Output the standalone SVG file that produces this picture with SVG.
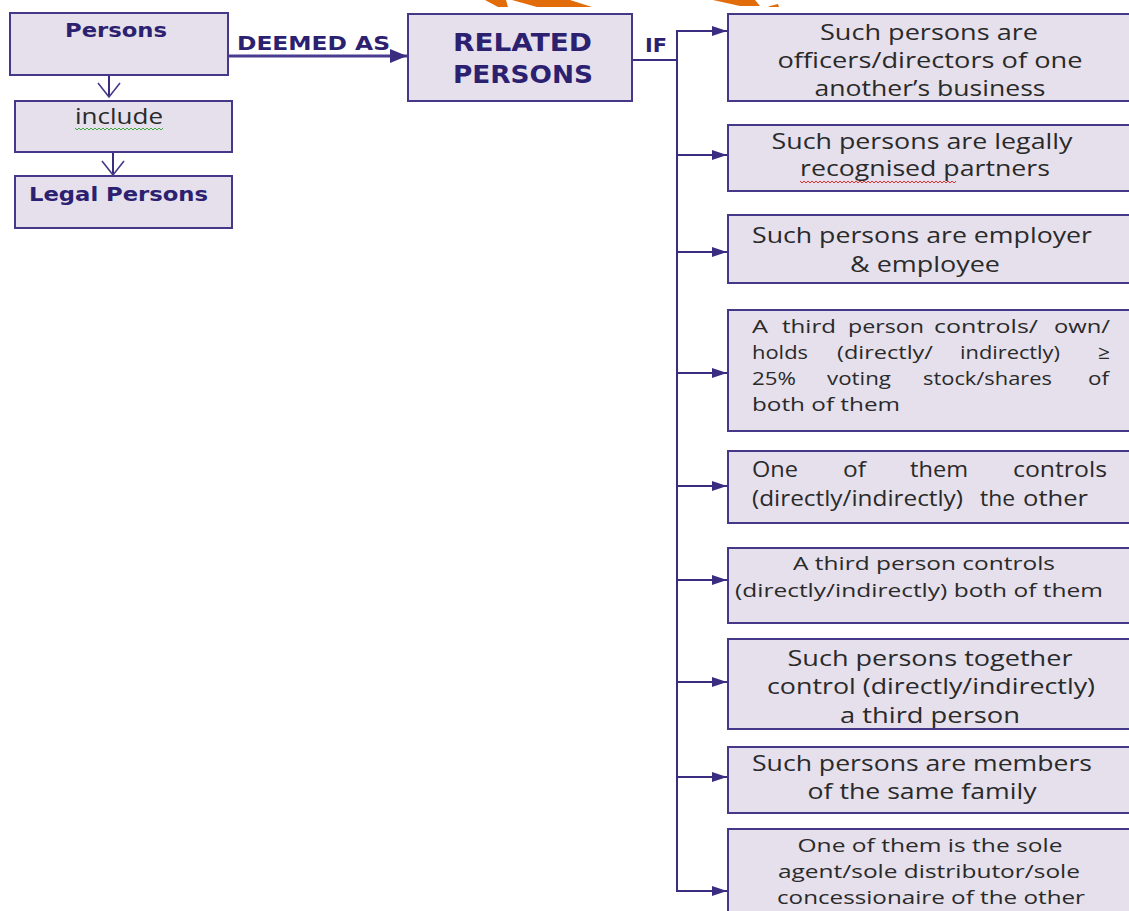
<svg xmlns="http://www.w3.org/2000/svg" width="1129" height="911" viewBox="0 0 1129 911">
  <style>
    .box { fill: #E5E0EC; stroke: #463889; stroke-width: 2; }
    .hdr { font-family: "DejaVu Sans", Verdana, sans-serif; font-weight: bold; fill: #2C2170; }
    .txt { font-family: "Open Sans", "Segoe UI", sans-serif; font-size: 21px; fill: #2A2A2A; }
    .sm { font-size: 19px; }
    .c { text-anchor: middle; }
    .wire { fill: none; stroke: #3A2C80; stroke-width: 2; }
    .wire-thick { fill: none; stroke: #4A3C91; stroke-width: 3; }
    .wave-g { fill: none; stroke: #3DAA3D; stroke-width: 1; }
    .wave-r { fill: none; stroke: #E03030; stroke-width: 1; }
    .mark { fill: #E36C0A; }
  </style>
  <defs>
    <marker id="tri" markerUnits="userSpaceOnUse" markerWidth="16" markerHeight="12" refX="15" refY="5" orient="auto" overflow="visible">
      <path d="M0,0 L15,5 L0,10 Z" fill="#3A2C80"/>
    </marker>
    <marker id="tri-big" markerUnits="userSpaceOnUse" markerWidth="18" markerHeight="16" refX="17" refY="7" orient="auto" overflow="visible">
      <path d="M0,0 L17,7 L0,14 Z" fill="#3A2C80"/>
    </marker>
    <marker id="chev" markerUnits="userSpaceOnUse" markerWidth="16" markerHeight="24" refX="14" refY="11" orient="auto" overflow="visible">
      <path d="M0,0 L14,11 L0,22" fill="none" stroke="#463889" stroke-width="1.6"/>
    </marker>
  </defs>

  <rect width="1129" height="911" fill="#FFFFFF"/>

  <!-- orange strokes along the top edge -->
  <g id="top-marks">
    <polygon class="mark" points="485,0 506,0 508,7 498,7"/>
    <polygon class="mark" points="512,0 570,0 592,7 537,7"/>
    <polygon class="mark" points="713,0 755,0 760,6 740,6"/>
    <polygon class="mark" points="770,6 778,4 779,7 768,7"/>
  </g>

  <!-- connectors -->
  <g id="connectors">
    <path class="wire-thick" d="M228,56 H407" marker-end="url(#tri-big)"/>
    <path class="wire" d="M109,75 V97" marker-end="url(#chev)"/>
    <path class="wire" d="M113,152 V175" marker-end="url(#chev)"/>
    <path class="wire" d="M632,60 H677"/>
    <path class="wire" d="M677,31 V891"/>
    <path class="wire" d="M676,31 H727" marker-end="url(#tri)"/>
    <path class="wire" d="M677,155 H727" marker-end="url(#tri)"/>
    <path class="wire" d="M677,252 H727" marker-end="url(#tri)"/>
    <path class="wire" d="M677,373 H727" marker-end="url(#tri)"/>
    <path class="wire" d="M677,486 H727" marker-end="url(#tri)"/>
    <path class="wire" d="M677,580 H727" marker-end="url(#tri)"/>
    <path class="wire" d="M677,682 H727" marker-end="url(#tri)"/>
    <path class="wire" d="M677,777 H727" marker-end="url(#tri)"/>
    <path class="wire" d="M676,891 H727" marker-end="url(#tri)"/>
    <text class="hdr" x="237" y="50" font-size="20" textLength="153" lengthAdjust="spacingAndGlyphs">DEEMED AS</text>
    <text class="hdr" x="645" y="52" font-size="20" textLength="22" lengthAdjust="spacingAndGlyphs">IF</text>
  </g>

  <g id="persons">
    <rect class="box" x="10" y="13" width="218" height="62"/>
    <text class="hdr" x="65" y="37" font-size="19" textLength="102" lengthAdjust="spacingAndGlyphs">Persons</text>
  </g>

  <g id="include">
    <rect class="box" x="15" y="101" width="217" height="51"/>
    <text class="txt" x="75" y="124" font-size="22" textLength="88" lengthAdjust="spacingAndGlyphs">include</text>
    <path class="wave-g" d="M75,128 l2,2 l2,-2 l2,2 l2,-2 l2,2 l2,-2 l2,2 l2,-2 l2,2 l2,-2 l2,2 l2,-2 l2,2 l2,-2 l2,2 l2,-2 l2,2 l2,-2 l2,2 l2,-2 l2,2 l2,-2 l2,2 l2,-2 l2,2 l2,-2 l2,2 l2,-2 l2,2 l2,-2 l2,2 l2,-2 l2,2 l2,-2 l2,2 l2,-2 l2,2 l2,-2 l2,2 l2,-2 l2,2 l2,-2 l2,2 l2,-2"/>
  </g>

  <g id="legal-persons">
    <rect class="box" x="15" y="176" width="217" height="52"/>
    <text class="hdr" x="29" y="201" font-size="19" textLength="179" lengthAdjust="spacingAndGlyphs">Legal Persons</text>
  </g>

  <g id="related-persons">
    <rect class="box" x="408" y="14" width="224" height="87"/>
    <text class="hdr" x="453" y="51" font-size="25" textLength="139" lengthAdjust="spacingAndGlyphs">RELATED</text>
    <text class="hdr" x="453" y="83" font-size="25" textLength="140" lengthAdjust="spacingAndGlyphs">PERSONS</text>
  </g>

  <g id="officers-directors">
    <rect class="box" x="728" y="14" width="404" height="87"/>
    <text class="txt c" x="929" y="40" textLength="218" lengthAdjust="spacingAndGlyphs">Such persons are</text>
    <text class="txt c" x="930" y="68" textLength="305" lengthAdjust="spacingAndGlyphs">officers/directors of one</text>
    <text class="txt c" x="930" y="96" textLength="231" lengthAdjust="spacingAndGlyphs">another’s business</text>
  </g>

  <g id="partners">
    <rect class="box" x="728" y="125" width="404" height="66"/>
    <text class="txt c" x="922" y="149" textLength="301" lengthAdjust="spacingAndGlyphs">Such persons are legally</text>
    <text class="txt c" x="925" y="176" textLength="250" lengthAdjust="spacingAndGlyphs">recognised partners</text>
    <path class="wave-r" d="M800,181 l2,2 l2,-2 l2,2 l2,-2 l2,2 l2,-2 l2,2 l2,-2 l2,2 l2,-2 l2,2 l2,-2 l2,2 l2,-2 l2,2 l2,-2 l2,2 l2,-2 l2,2 l2,-2 l2,2 l2,-2 l2,2 l2,-2 l2,2 l2,-2 l2,2 l2,-2 l2,2 l2,-2 l2,2 l2,-2 l2,2 l2,-2 l2,2 l2,-2 l2,2 l2,-2 l2,2 l2,-2 l2,2 l2,-2 l2,2 l2,-2 l2,2 l2,-2 l2,2 l2,-2 l2,2 l2,-2 l2,2 l2,-2 l2,2 l2,-2 l2,2 l2,-2 l2,2 l2,-2 l2,2 l2,-2 l2,2 l2,-2 l2,2 l2,-2 l2,2 l2,-2 l2,2 l2,-2 l2,2 l2,-2 l2,2 l2,-2 l2,2 l2,-2 l2,2 l2,-2 l2,2 l2,-2"/>
  </g>

  <g id="employer-employee">
    <rect class="box" x="728" y="215" width="404" height="68"/>
    <text class="txt c" x="922" y="243" textLength="340" lengthAdjust="spacingAndGlyphs">Such persons are employer</text>
    <text class="txt c" x="925" y="272" textLength="150" lengthAdjust="spacingAndGlyphs">&amp; employee</text>
  </g>

  <!-- justified paragraph: each word placed at its own x -->
  <g id="third-person-holds">
    <rect class="box" x="728" y="310" width="404" height="121"/>
    <text class="txt sm" y="333"><tspan x="752" textLength="16" lengthAdjust="spacingAndGlyphs">A</tspan><tspan x="782" textLength="54" lengthAdjust="spacingAndGlyphs">third</tspan><tspan x="848" textLength="76" lengthAdjust="spacingAndGlyphs">person</tspan><tspan x="934" textLength="104" lengthAdjust="spacingAndGlyphs">controls/</tspan><tspan x="1054" textLength="56" lengthAdjust="spacingAndGlyphs">own/</tspan></text>
    <text class="txt sm" y="359"><tspan x="752" textLength="56" lengthAdjust="spacingAndGlyphs">holds</tspan><tspan x="837" textLength="96" lengthAdjust="spacingAndGlyphs">(directly/</tspan><tspan x="960" textLength="100" lengthAdjust="spacingAndGlyphs">indirectly)</tspan><tspan x="1098" textLength="12" lengthAdjust="spacingAndGlyphs">≥</tspan></text>
    <text class="txt sm" y="385"><tspan x="752" textLength="44" lengthAdjust="spacingAndGlyphs">25%</tspan><tspan x="827" textLength="64" lengthAdjust="spacingAndGlyphs">voting</tspan><tspan x="923" textLength="129" lengthAdjust="spacingAndGlyphs">stock/shares</tspan><tspan x="1088" textLength="21" lengthAdjust="spacingAndGlyphs">of</tspan></text>
    <text class="txt sm" x="752" y="411" textLength="148" lengthAdjust="spacingAndGlyphs">both of them</text>
  </g>

  <g id="one-controls-other">
    <rect class="box" x="728" y="451" width="404" height="72"/>
    <text class="txt" y="477"><tspan x="752" textLength="46" lengthAdjust="spacingAndGlyphs">One</tspan><tspan x="843" textLength="23" lengthAdjust="spacingAndGlyphs">of</tspan><tspan x="910" textLength="58" lengthAdjust="spacingAndGlyphs">them</tspan><tspan x="1013" textLength="94" lengthAdjust="spacingAndGlyphs">controls</tspan></text>
    <text class="txt" y="506"><tspan x="752" textLength="211" lengthAdjust="spacingAndGlyphs">(directly/indirectly)</tspan><tspan x="980" textLength="35" lengthAdjust="spacingAndGlyphs">the</tspan><tspan x="1023" textLength="65" lengthAdjust="spacingAndGlyphs">other</tspan></text>
  </g>

  <g id="third-person-controls">
    <rect class="box" x="728" y="548" width="404" height="75"/>
    <text class="txt sm c" x="924" y="570" textLength="262" lengthAdjust="spacingAndGlyphs">A third person controls</text>
    <text class="txt sm c" x="919" y="597" textLength="368" lengthAdjust="spacingAndGlyphs">(directly/indirectly) both of them</text>
  </g>

  <g id="together-control">
    <rect class="box" x="728" y="639" width="404" height="90"/>
    <text class="txt c" x="930" y="666" textLength="285" lengthAdjust="spacingAndGlyphs">Such persons together</text>
    <text class="txt c" x="931" y="694" textLength="328" lengthAdjust="spacingAndGlyphs">control (directly/indirectly)</text>
    <text class="txt c" x="930" y="723" textLength="180" lengthAdjust="spacingAndGlyphs">a third person</text>
  </g>

  <g id="same-family">
    <rect class="box" x="728" y="747" width="404" height="66"/>
    <text class="txt c" x="922" y="771" textLength="340" lengthAdjust="spacingAndGlyphs">Such persons are members</text>
    <text class="txt c" x="922" y="799" textLength="229" lengthAdjust="spacingAndGlyphs">of the same family</text>
  </g>

  <g id="sole-agent">
    <rect class="box" x="728" y="829" width="404" height="95"/>
    <text class="txt sm c" x="930" y="852" textLength="265" lengthAdjust="spacingAndGlyphs">One of them is the sole</text>
    <text class="txt sm c" x="929" y="878" textLength="302" lengthAdjust="spacingAndGlyphs">agent/sole distributor/sole</text>
    <text class="txt sm c" x="931" y="904" textLength="308" lengthAdjust="spacingAndGlyphs">concessionaire of the other</text>
  </g>
</svg>
